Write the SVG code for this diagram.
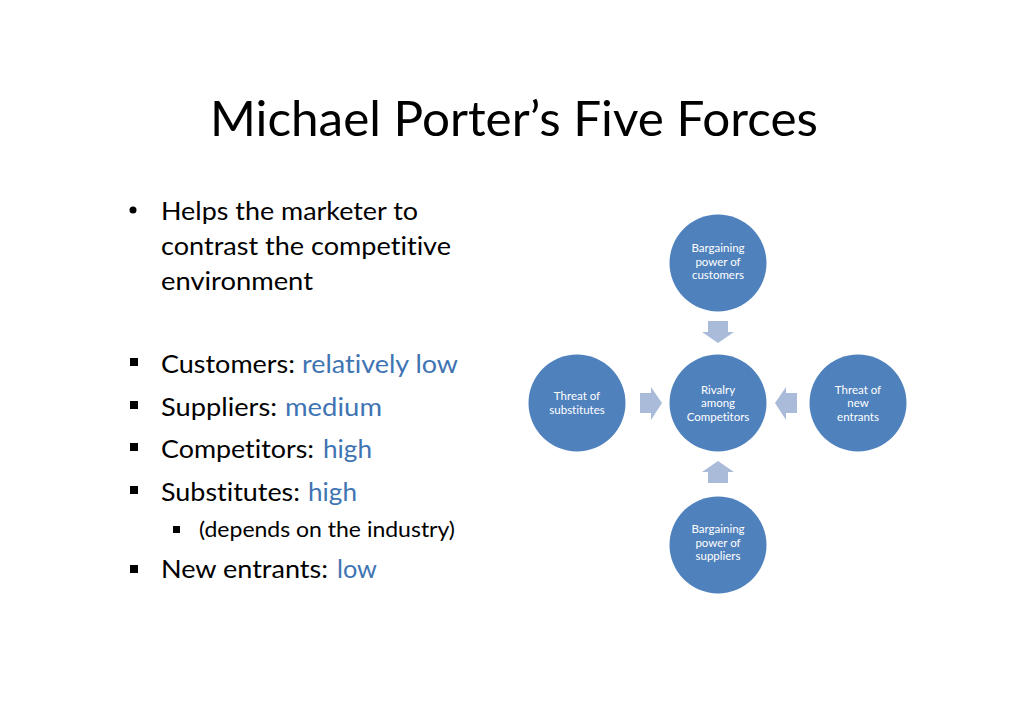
<svg xmlns="http://www.w3.org/2000/svg" width="1030" height="728" viewBox="0 0 1030 728">
<style>
.t{font-family:Lato,"Open Sans","Liberation Sans",sans-serif;fill:#000;font-variant-ligatures:none}
.title{font-size:49px}
.b{font-size:25px}
.s{font-size:21px}
.blue{fill:#3f74b3}
.node circle{fill:#4f81bd}
.node text{font-family:Lato,"Open Sans","Liberation Sans",sans-serif;font-size:11.5px;fill:#fff;text-anchor:middle;font-variant-ligatures:none}
.arrow{fill:#a9bbd9}
.sq{fill:#000}
</style>
<rect width="1030" height="728" fill="#fff"/>
<text class="t title" x="514" y="136" text-anchor="middle" textLength="608" lengthAdjust="spacingAndGlyphs">Michael Porter’s Five Forces</text>

<g id="bullets">
<circle cx="133" cy="210" r="3.5" fill="#000"/>
<text class="t b" x="161" y="220" textLength="257" lengthAdjust="spacingAndGlyphs">Helps the marketer to</text>
<text class="t b" x="161" y="255" textLength="290" lengthAdjust="spacingAndGlyphs">contrast the competitive</text>
<text class="t b" x="161" y="290" textLength="152" lengthAdjust="spacingAndGlyphs">environment</text>

<rect class="sq" x="130" y="358" width="8" height="8"/>
<text class="t b" x="161" y="373" textLength="134" lengthAdjust="spacingAndGlyphs">Customers:</text>
<text class="t b blue" x="302" y="373" textLength="156" lengthAdjust="spacingAndGlyphs">relatively low</text>

<rect class="sq" x="130" y="401" width="8" height="8"/>
<text class="t b" x="161" y="416" textLength="116" lengthAdjust="spacingAndGlyphs">Suppliers:</text>
<text class="t b blue" x="285" y="416" textLength="97" lengthAdjust="spacingAndGlyphs">medium</text>

<rect class="sq" x="130" y="443" width="8" height="8"/>
<text class="t b" x="161" y="458" textLength="153" lengthAdjust="spacingAndGlyphs">Competitors:</text>
<text class="t b blue" x="323" y="458" textLength="49" lengthAdjust="spacingAndGlyphs">high</text>

<rect class="sq" x="130" y="486" width="8" height="8"/>
<text class="t b" x="161" y="501" textLength="139" lengthAdjust="spacingAndGlyphs">Substitutes:</text>
<text class="t b blue" x="308" y="501" textLength="49" lengthAdjust="spacingAndGlyphs">high</text>

<rect class="sq" x="173" y="526" width="7" height="7"/>
<text class="t s" x="199" y="537" textLength="256" lengthAdjust="spacingAndGlyphs">(depends on the industry)</text>

<rect class="sq" x="130" y="565" width="8" height="8"/>
<text class="t b" x="161" y="578" textLength="167" lengthAdjust="spacingAndGlyphs">New entrants:</text>
<text class="t b blue" x="337" y="578" textLength="40" lengthAdjust="spacingAndGlyphs">low</text>
</g>

<g id="connectors">
<polygon class="arrow" points="708,321 728,321 728,332 734,332 718,343 702,332 708,332"/>
<polygon class="arrow" points="708,483 728,483 728,472 734,472 718,461 702,472 708,472"/>
<polygon class="arrow" points="640,393 651,393 651,387 662,403 651,420 651,413 640,413"/>
<polygon class="arrow" points="797,393 786,393 786,387 775,403 786,420 786,413 797,413"/>
</g>

<g id="node-customers" class="node">
<circle cx="718" cy="263" r="48.5"/>
<text x="718" y="252">Bargaining</text>
<text x="718" y="265.5">power of</text>
<text x="718" y="279">customers</text>
</g>
<g id="node-rivalry" class="node">
<circle cx="718" cy="403" r="48.5"/>
<text x="718" y="393.5">Rivalry</text>
<text x="718" y="407">among</text>
<text x="718" y="420.5">Competitors</text>
</g>
<g id="node-substitutes" class="node">
<circle cx="577" cy="403" r="48.5"/>
<text x="577" y="400">Threat of</text>
<text x="577" y="413.5">substitutes</text>
</g>
<g id="node-entrants" class="node">
<circle cx="858" cy="403" r="48.5"/>
<text x="858" y="393.5">Threat of</text>
<text x="858" y="407">new</text>
<text x="858" y="420.5">entrants</text>
</g>
<g id="node-suppliers" class="node">
<circle cx="718" cy="545" r="48.5"/>
<text x="718" y="533">Bargaining</text>
<text x="718" y="546.5">power of</text>
<text x="718" y="560">suppliers</text>
</g>
</svg>
